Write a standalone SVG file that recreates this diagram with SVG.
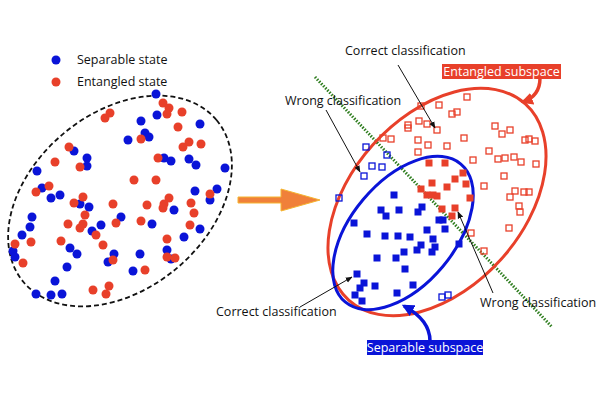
<svg xmlns="http://www.w3.org/2000/svg" width="600" height="400" viewBox="0 0 600 400">
<style>
text{font-family:"Open Sans","Liberation Sans",sans-serif;font-size:12.5px;fill:#111}
.b{fill:#0a14d8}.r{fill:#e8402a}
.ob{fill:none;stroke:#0a14d8;stroke-width:1.3}
.or{fill:none;stroke:#e8402a;stroke-width:1.3}
.ln{stroke:#111;stroke-width:1;fill:none;marker-end:url(#ah)}
</style>
<defs>
<marker id="ah" viewBox="0 0 10 10" refX="9" refY="5" markerWidth="7" markerHeight="7" orient="auto"><path d="M0,1 L10,5 L0,9 z" fill="#111"/></marker>
<marker id="ahr" viewBox="0 0 10 10" refX="8" refY="5" markerWidth="3.5" markerHeight="3.5" orient="auto"><path d="M0,0 L10,5 L0,10 z" fill="#e8402a"/></marker>
<marker id="ahb" viewBox="0 0 10 10" refX="8" refY="5" markerWidth="3.5" markerHeight="3.5" orient="auto"><path d="M0,0 L10,5 L0,10 z" fill="#0a14d8"/></marker>
<g id="sq"><rect x="-3.5" y="-3.5" width="7" height="7"/></g>
<g id="osq"><rect x="-3" y="-3" width="6" height="6"/></g>
</defs>
<rect width="600" height="400" fill="#fff"/>
<g id="legend">
<circle cx="56" cy="60" r="4.5" class="b"/><text x="77" y="64">Separable state</text>
<circle cx="56" cy="82" r="4.5" class="r"/><text x="77" y="86">Entangled state</text>
</g>
<g id="left-cloud">
<ellipse cx="120" cy="201" rx="126" ry="88" transform="rotate(-40 120 201)" fill="none" stroke="#111" stroke-width="1.8" stroke-dasharray="5 3"/>
<g class="b">
<circle cx="156" cy="94" r="4.5"/><circle cx="157" cy="115" r="4.5"/><circle cx="141" cy="121" r="4.5"/><circle cx="200" cy="124" r="4.5"/><circle cx="128" cy="140" r="4.5"/><circle cx="145" cy="133" r="4.5"/><circle cx="149" cy="137" r="4.5"/><circle cx="74" cy="151" r="4.5"/><circle cx="87" cy="158" r="4.5"/><circle cx="87" cy="166" r="4.5"/><circle cx="164" cy="158" r="4.5"/><circle cx="171" cy="161" r="4.5"/><circle cx="189" cy="159" r="4.5"/><circle cx="196" cy="165" r="4.5"/><circle cx="225" cy="168" r="4.5"/><circle cx="37" cy="171" r="4.5"/><circle cx="42" cy="188" r="4.5"/><circle cx="51" cy="198" r="4.5"/><circle cx="60" cy="195" r="4.5"/><circle cx="217" cy="189" r="4.5"/><circle cx="195" cy="191" r="4.5"/><circle cx="210" cy="200" r="4.5"/><circle cx="80" cy="204" r="4.5"/><circle cx="89" cy="207" r="4.5"/><circle cx="174" cy="210" r="4.5"/><circle cx="32" cy="217" r="4.5"/><circle cx="121" cy="217" r="4.5"/><circle cx="101" cy="225" r="4.5"/><circle cx="152" cy="224" r="4.5"/><circle cx="30" cy="227" r="4.5"/><circle cx="92" cy="231" r="4.5"/><circle cx="200" cy="229" r="4.5"/><circle cx="22" cy="235" r="4.5"/><circle cx="184" cy="237" r="4.5"/><circle cx="70" cy="248" r="4.5"/><circle cx="13" cy="251" r="4.5"/><circle cx="15" cy="257" r="4.5"/><circle cx="77" cy="254" r="4.5"/><circle cx="114" cy="254" r="4.5"/><circle cx="140" cy="254" r="4.5"/><circle cx="167" cy="250" r="4.5"/><circle cx="108" cy="262" r="4.5"/><circle cx="171" cy="259" r="4.5"/><circle cx="67" cy="267" r="4.5"/><circle cx="133" cy="271" r="4.5"/><circle cx="55" cy="281" r="4.5"/><circle cx="36" cy="294" r="4.5"/><circle cx="51" cy="295" r="4.5"/><circle cx="62" cy="294" r="4.5"/>
</g>
<g class="r">
<circle cx="163" cy="103" r="4.5"/><circle cx="169" cy="108" r="4.5"/><circle cx="167" cy="114" r="4.5"/><circle cx="182" cy="112" r="4.5"/><circle cx="110" cy="113" r="4.5"/><circle cx="105" cy="118" r="4.5"/><circle cx="178" cy="127" r="4.5"/><circle cx="141" cy="139" r="4.5"/><circle cx="189" cy="142" r="4.5"/><circle cx="183" cy="147" r="4.5"/><circle cx="201" cy="144" r="4.5"/><circle cx="69" cy="147" r="4.5"/><circle cx="55" cy="162" r="4.5"/><circle cx="80" cy="167" r="4.5"/><circle cx="158" cy="158" r="4.5"/><circle cx="134" cy="180" r="4.5"/><circle cx="156" cy="180" r="4.5"/><circle cx="49" cy="186" r="4.5"/><circle cx="36" cy="192" r="4.5"/><circle cx="83" cy="197" r="4.5"/><circle cx="74" cy="203" r="4.5"/><circle cx="113" cy="204" r="4.5"/><circle cx="147" cy="205" r="4.5"/><circle cx="169" cy="198" r="4.5"/><circle cx="164" cy="204" r="4.5"/><circle cx="163" cy="208" r="4.5"/><circle cx="191" cy="203" r="4.5"/><circle cx="210" cy="194" r="4.5"/><circle cx="85" cy="215" r="4.5"/><circle cx="194" cy="213" r="4.5"/><circle cx="68" cy="224" r="4.5"/><circle cx="83" cy="224" r="4.5"/><circle cx="80" cy="228" r="4.5"/><circle cx="116" cy="223" r="4.5"/><circle cx="141" cy="221" r="4.5"/><circle cx="190" cy="225" r="4.5"/><circle cx="96" cy="235" r="4.5"/><circle cx="31" cy="242" r="4.5"/><circle cx="61" cy="241" r="4.5"/><circle cx="103" cy="245" r="4.5"/><circle cx="167" cy="239" r="4.5"/><circle cx="15" cy="244" r="4.5"/><circle cx="167" cy="257" r="4.5"/><circle cx="175" cy="258" r="4.5"/><circle cx="113" cy="260" r="4.5"/><circle cx="23" cy="263" r="4.5"/><circle cx="145" cy="270" r="4.5"/><circle cx="109" cy="286" r="4.5"/><circle cx="93" cy="290" r="4.5"/><circle cx="106" cy="294" r="4.5"/>
</g>
</g>
<g id="transition-arrow">
<path d="M238,197 H281 V189 L320,200 L281,211 V203 H238 Z" fill="#f0803a" stroke="#f5b530" stroke-width="1"/>
</g>
<g id="classifier-line">
<line x1="315" y1="77" x2="552" y2="327" stroke="#2e7d1e" stroke-width="3" stroke-dasharray="1.5 1.5"/>
</g>
<g id="entangled-region">
<ellipse cx="437" cy="202" rx="132" ry="86" transform="rotate(-48 437 202)" fill="none" stroke="#e8402a" stroke-width="3"/>
</g>
<g id="separable-region">
<ellipse cx="403" cy="233" rx="90" ry="52" transform="rotate(-50 403 233)" fill="none" stroke="#0a14d8" stroke-width="3"/>
</g>
<g id="points-right">
<g class="b">
<use href="#sq" x="394" y="195"/><use href="#sq" x="381" y="210"/><use href="#sq" x="386" y="216"/><use href="#sq" x="399" y="210"/><use href="#sq" x="418" y="212"/><use href="#sq" x="422" y="207"/><use href="#sq" x="354" y="223"/><use href="#sq" x="367" y="234"/><use href="#sq" x="385" y="236"/><use href="#sq" x="398" y="236"/><use href="#sq" x="410" y="237"/><use href="#sq" x="427" y="230"/><use href="#sq" x="439" y="220"/><use href="#sq" x="443" y="220"/><use href="#sq" x="445" y="229"/><use href="#sq" x="433" y="239"/><use href="#sq" x="421" y="245"/><use href="#sq" x="417" y="250"/><use href="#sq" x="435" y="247"/><use href="#sq" x="432" y="252"/><use href="#sq" x="404" y="252"/><use href="#sq" x="396" y="258"/><use href="#sq" x="377" y="258"/><use href="#sq" x="405" y="269"/><use href="#sq" x="357" y="274"/><use href="#sq" x="364" y="283"/><use href="#sq" x="360" y="288"/><use href="#sq" x="375" y="286"/><use href="#sq" x="355" y="295"/><use href="#sq" x="362" y="301"/><use href="#sq" x="397" y="293"/><use href="#sq" x="413" y="285"/><use href="#sq" x="459" y="244"/>
</g>
<g class="r">
<use href="#sq" x="429" y="163"/><use href="#sq" x="445" y="163"/><use href="#sq" x="463" y="173"/><use href="#sq" x="421" y="189"/><use href="#sq" x="432" y="183"/><use href="#sq" x="447" y="187"/><use href="#sq" x="455" y="179"/><use href="#sq" x="466" y="184"/><use href="#sq" x="427" y="195"/><use href="#sq" x="437" y="196"/><use href="#sq" x="433" y="195"/><use href="#sq" x="442" y="209"/><use href="#sq" x="455" y="208"/><use href="#sq" x="452" y="216"/><use href="#sq" x="470" y="198"/>
</g>
<g class="or">
<use href="#osq" x="467" y="97"/><use href="#osq" x="439" y="105"/><use href="#osq" x="421" y="106"/><use href="#osq" x="452" y="114"/><use href="#osq" x="457" y="112"/><use href="#osq" x="408" y="125"/><use href="#osq" x="408" y="128"/><use href="#osq" x="419" y="121"/><use href="#osq" x="427" y="124"/><use href="#osq" x="437" y="130"/><use href="#osq" x="383" y="138"/><use href="#osq" x="391" y="139"/><use href="#osq" x="418" y="140"/><use href="#osq" x="428" y="145"/><use href="#osq" x="447" y="146"/><use href="#osq" x="464" y="138"/><use href="#osq" x="418" y="152"/><use href="#osq" x="473" y="160"/><use href="#osq" x="495" y="126"/><use href="#osq" x="502" y="134"/><use href="#osq" x="510" y="130"/><use href="#osq" x="525" y="140"/><use href="#osq" x="529" y="139"/><use href="#osq" x="535" y="141"/><use href="#osq" x="489" y="151"/><use href="#osq" x="498" y="159"/><use href="#osq" x="505" y="158"/><use href="#osq" x="514" y="157"/><use href="#osq" x="521" y="162"/><use href="#osq" x="536" y="164"/><use href="#osq" x="504" y="176"/><use href="#osq" x="484" y="186"/><use href="#osq" x="510" y="197"/><use href="#osq" x="515" y="191"/><use href="#osq" x="524" y="192"/><use href="#osq" x="529" y="192"/><use href="#osq" x="519" y="206"/><use href="#osq" x="520" y="212"/><use href="#osq" x="509" y="228"/><use href="#osq" x="484" y="251"/><use href="#osq" x="471" y="233"/>
</g>
<g class="ob">
<use href="#osq" x="366" y="147"/><use href="#osq" x="387" y="155"/><use href="#osq" x="372" y="166"/><use href="#osq" x="382" y="167"/><use href="#osq" x="364" y="176"/><use href="#osq" x="339" y="198"/><use href="#osq" x="442" y="297"/><use href="#osq" x="448" y="295"/>
</g>
</g>
<g id="connectors">
<line class="ln" x1="398" y1="65" x2="435" y2="128"/>
<line class="ln" x1="326" y1="110" x2="360" y2="172"/>
<line class="ln" x1="300" y1="307" x2="352" y2="277"/>
<line class="ln" x1="493" y1="293" x2="458" y2="212"/>
<path d="M540,78 Q540,96 523,102" fill="none" stroke="#e8402a" stroke-width="3.5" marker-end="url(#ahr)"/>
<path d="M430,341 Q430,320 404,306" fill="none" stroke="#0a14d8" stroke-width="3.5" marker-end="url(#ahb)"/>
</g>
<g id="labels">
<text x="345" y="55">Correct classification</text>
<text x="285" y="105">Wrong classification</text>
<text x="216" y="316">Correct classification</text>
<text x="480" y="307">Wrong classification</text>
</g>
<g id="entangled-label">
<rect x="442" y="64" width="119" height="15" fill="#e8402a"/>
<text x="501.5" y="76" text-anchor="middle" style="fill:#fff">Entangled subspace</text>
</g>
<g id="separable-label">
<rect x="367" y="340" width="116" height="15" fill="#0a14d8"/>
<text x="425" y="352" text-anchor="middle" style="fill:#fff">Separable subspace</text>
</g>
</svg>
